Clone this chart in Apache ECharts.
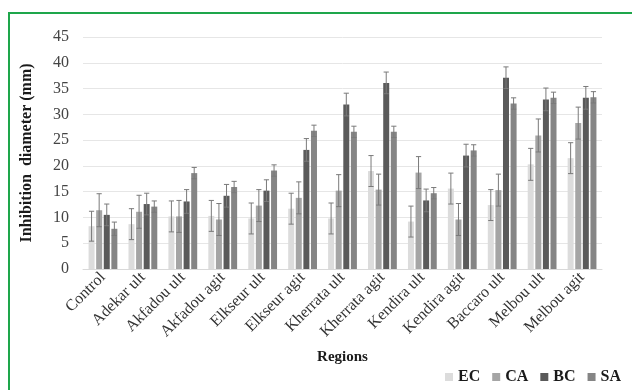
<!DOCTYPE html>
<html>
<head>
<meta charset="utf-8">
<script src="https://cdn.jsdelivr.net/npm/echarts@6/dist/echarts.min.js"></script>
<style>
  html, body { margin: 0; padding: 0; background: #ffffff; }
  #frame { position: absolute; left: 8px; top: 12px; width: 700px; height: 500px;
           border-left: 2px solid #1ea64b; border-top: 2px solid #1ea64b; }
  #chart { position: absolute; left: 0; top: 0; width: 632px; height: 390px; }
</style>
</head>
<body>
<div id="frame"></div>
<div id="chart"></div>
<script>
// Regions sampled
const categories = ['Control', 'Adekar ult', 'Akfadou ult', 'Akfadou agit', 'Elkseur ult',
  'Elkseur agit', 'Kherrata ult', 'Kherrata agit', 'Kendira ult', 'Kendira agit',
  'Baccaro ult', 'Melbou ult', 'Melbou agit'];

// Mean inhibition diameters (mm) per test strain
const EC = [8.3, 8.7, 10.2, 10.3, 9.8, 11.7, 9.8, 19.0, 9.2, 15.6, 12.4, 20.3, 21.5];
const CA = [11.4, 11.1, 10.2, 9.6, 12.3, 13.8, 15.2, 15.4, 18.7, 9.6, 15.3, 25.9, 28.3];
const BC = [10.5, 12.6, 13.1, 14.2, 15.2, 23.1, 31.9, 36.1, 13.3, 22.0, 37.1, 32.9, 33.2];
const SA = [7.8, 12.1, 18.6, 15.9, 19.1, 26.8, 26.6, 26.6, 14.7, 23.0, 32.1, 33.2, 33.3];

// Standard deviations
const EC_err = [2.9, 3.0, 3.0, 3.0, 3.0, 3.0, 3.0, 3.0, 3.0, 3.0, 3.0, 3.1, 3.0];
const CA_err = [3.2, 3.2, 3.1, 3.1, 3.1, 3.1, 3.1, 3.0, 3.1, 3.1, 3.1, 3.2, 3.1];
const BC_err = [2.1, 2.1, 2.3, 2.2, 2.1, 2.2, 2.2, 2.1, 2.2, 2.2, 2.1, 2.2, 2.2];
const SA_err = [1.3, 1.1, 1.1, 1.1, 1.1, 1.1, 1.1, 1.1, 1.1, 1.1, 1.1, 1.1, 1.1];

const yTicks = [0, 5, 10, 15, 20, 25, 30, 35, 40, 45];

const seriesNames = ['EC', 'CA', 'BC', 'SA'];
const seriesValues = [EC, CA, BC, SA];
const seriesErrors = [EC_err, CA_err, BC_err, SA_err];
const colors = ['#dcdcdc', '#a5a5a5', '#5a5a5a', '#858585'];

const serif = '"Liberation Serif", "Times New Roman", serif';
const BAR_W = 6;
const BAR_GAP = 1.6;

function barOffset(idx) {
  const total = 4 * BAR_W + 3 * BAR_GAP;
  return -total / 2 + idx * (BAR_W + BAR_GAP) + BAR_W / 2;
}

function errorBarSeries(idx) {
  const vals = seriesValues[idx];
  const errs = seriesErrors[idx];
  return {
    type: 'custom',
    name: seriesNames[idx] + ' sd',
    z: 10,
    silent: true,
    encode: { x: 0, y: 1 },
    data: vals.map((v, i) => [i, v, errs[i]]),
    renderItem: function (params, api) {
      const ci = api.value(0);
      const v = api.value(1);
      const e = api.value(2);
      const hi = api.coord([ci, v + e]);
      const lo = api.coord([ci, v - e]);
      const x = hi[0] + barOffset(idx);
      const cap = 2.6;
      const style = { stroke: '#7a7a7a', lineWidth: 1 };
      return {
        type: 'group',
        children: [
          { type: 'line', shape: { x1: x, y1: hi[1], x2: x, y2: lo[1] }, style: style },
          { type: 'line', shape: { x1: x - cap, y1: hi[1], x2: x + cap, y2: hi[1] }, style: style },
          { type: 'line', shape: { x1: x - cap, y1: lo[1], x2: x + cap, y2: lo[1] }, style: style }
        ]
      };
    }
  };
}

const barSeries = seriesNames.map((name, idx) => ({
  name: name,
  type: 'bar',
  data: seriesValues[idx],
  barWidth: BAR_W,
  barGap: (BAR_GAP / BAR_W * 100) + '%',
  itemStyle: { color: colors[idx] },
  emphasis: { disabled: true }
}));

const chart = echarts.init(document.getElementById('chart'), null, { renderer: 'canvas' });
chart.setOption({
  animation: false,
  backgroundColor: 'transparent',
  grid: { left: 83, right: 30, top: 37, bottom: 121, containLabel: false },
  legend: {
    data: seriesNames,
    right: 6,
    bottom: 0,
    icon: 'rect',
    itemWidth: 8,
    itemHeight: 8,
    itemGap: 12,
    textStyle: { fontFamily: serif, fontWeight: 'bold', fontSize: 16, color: '#1a1a1a' }
  },
  xAxis: {
    type: 'category',
    data: categories,
    name: 'Regions',
    nameLocation: 'middle',
    nameGap: 81,
    nameTextStyle: { fontFamily: serif, fontWeight: 'bold', fontSize: 15, color: '#1a1a1a' },
    axisLine: { lineStyle: { color: '#d9d9d9' } },
    axisTick: { show: false },
    axisLabel: { rotate: 45, interval: 0, margin: 6, fontFamily: serif, fontSize: 16, color: '#333333' }
  },
  yAxis: {
    type: 'value',
    min: yTicks[0],
    max: yTicks[yTicks.length - 1],
    interval: 5,
    name: 'Inhibition  diameter (mm)',
    nameLocation: 'middle',
    nameGap: 48,
    nameTextStyle: { fontFamily: serif, fontWeight: 'bold', fontSize: 16, color: '#1a1a1a' },
    axisLine: { show: false },
    axisTick: { show: false },
    axisLabel: { margin: 14, fontFamily: serif, fontSize: 16, color: '#444444' },
    splitLine: { lineStyle: { color: '#e6e6e6', width: 1 } }
  },
  series: barSeries.concat(seriesNames.map((n, i) => errorBarSeries(i)))
});
</script>
</body>
</html>
